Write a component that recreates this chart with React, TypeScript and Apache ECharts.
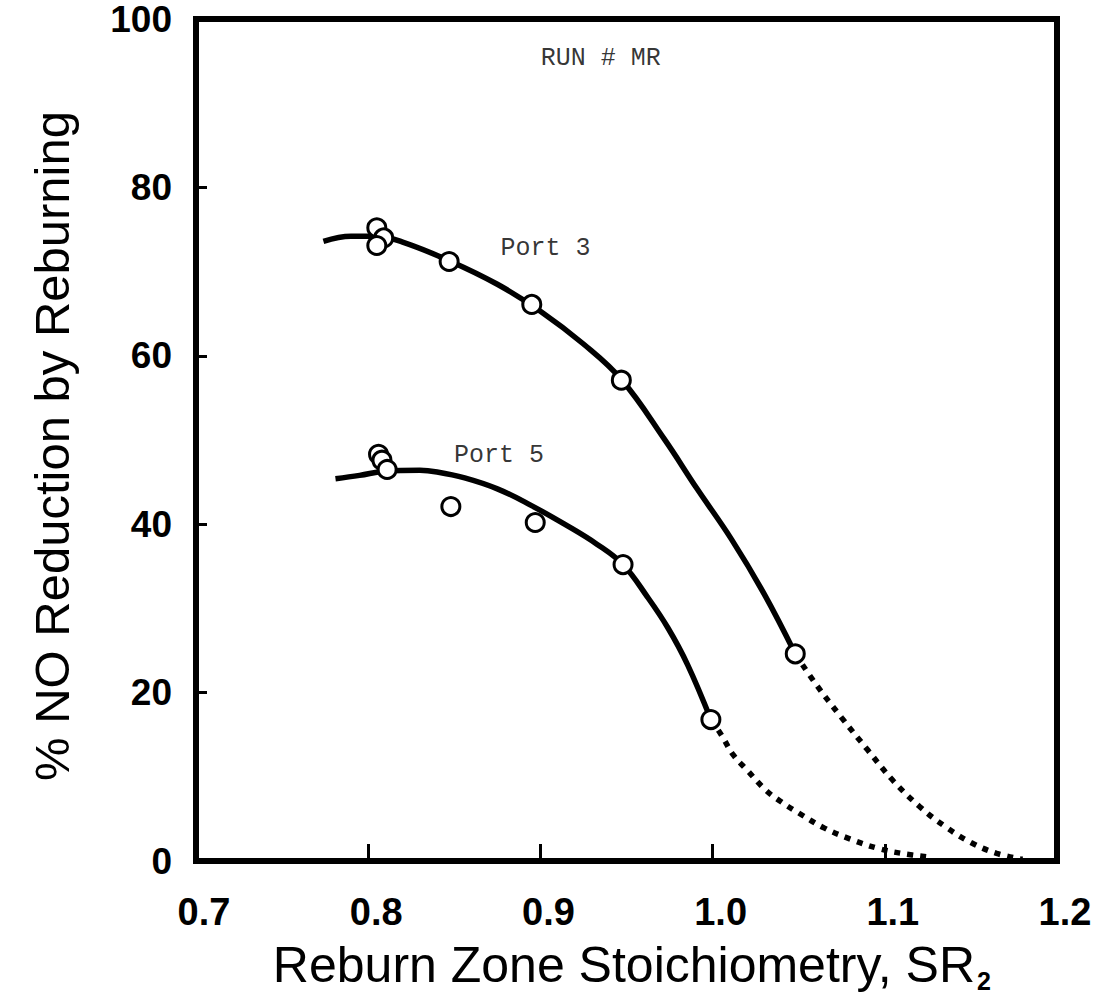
import React, { useEffect, useRef } from 'react';
import * as echarts from 'echarts';

// Measured circles
const port3Points: number[][] = [
  [0.805, 75.2], [0.809, 74.0], [0.805, 73.1], [0.847, 71.2], [0.895, 66.1], [0.947, 57.1], [1.048, 24.6],
];
const port5Points: number[][] = [
  [0.806, 48.3], [0.808, 47.6], [0.811, 46.5], [0.848, 42.1], [0.897, 40.2], [0.948, 35.2], [0.999, 16.8],
];

// Hand-drawn fitted curves (traced)
const port3Solid: number[][] = [
  [0.774, 73.6], [0.79, 74.2], [0.805, 74.2], [0.82, 73.5], [0.847, 71.3], [0.875, 68.5], [0.9, 65.3],
  [0.925, 61.4], [0.947, 57.2], [0.972, 50.1], [0.991, 44.2], [1.011, 38.2], [1.03, 31.7], [1.048, 24.6],
];
const port3Dotted: number[][] = [
  [1.048, 24.6], [1.06, 21.0], [1.075, 17.0], [1.09, 13.2], [1.105, 9.5], [1.12, 6.5], [1.135, 4.1],
  [1.15, 2.2], [1.165, 0.9], [1.18, 0.2],
];
const port5Solid: number[][] = [
  [0.781, 45.4], [0.795, 45.8], [0.81, 46.3], [0.83, 46.4], [0.84, 46.2], [0.856, 45.5], [0.875, 44.2],
  [0.894, 42.3], [0.914, 40.0], [0.933, 37.6], [0.948, 35.2], [0.962, 31.4], [0.974, 27.7], [0.9855, 23.3],
  [0.999, 16.8],
];
const port5Dotted: number[][] = [
  [0.999, 16.8], [1.005, 15.0], [1.012, 12.6], [1.02, 10.8], [1.031, 8.4], [1.04, 7.0], [1.05, 5.7],
  [1.065, 3.9], [1.08, 2.6], [1.096, 1.5], [1.11, 0.9], [1.128, 0.4],
];

const xMin = 0.7, xMax = 1.2, xStep = 0.1;
const yMin = 0, yMax = 100, yStep = 20;

const annotations = [
  { text: 'Port 3', x: 0.903, y: 72.7 },
  { text: 'Port 5', x: 0.876, y: 48.1 },
  { text: 'RUN # MR', x: 0.935, y: 95.3 },
];
const xTitle = 'Reburn Zone Stoichiometry, SR';
const xTitleSub = '2';
const yTitle = '% NO Reduction by Reburning';

const TYPE_FONT = '"Liberation Mono", "DejaVu Sans Mono", monospace';
const SANS = '"Liberation Sans", Arial, sans-serif';

export default function App() {
  const ref = useRef<HTMLDivElement>(null);
  useEffect(() => {
    if (!ref.current) return;
    const chart = echarts.init(ref.current, null, { renderer: 'svg' });
    const lineBase = { type: 'line', smooth: 0.4, showSymbol: false, symbol: 'none', silent: true, z: 2 };
    const scatterBase = {
      type: 'scatter', symbol: 'circle', symbolSize: 18, z: 5,
      itemStyle: { color: '#fff', borderColor: '#000', borderWidth: 3, opacity: 1 },
    };
    const dotted = { color: '#000', width: 5.5, type: [6, 7], cap: 'butt' };
    chart.setOption({
      animation: false,
      backgroundColor: '#fff',
      grid: {
        left: 196, right: 43, top: 19, bottom: 138, show: true,
        borderColor: '#000', borderWidth: 6, backgroundColor: 'transparent',
      },
      xAxis: {
        type: 'value', min: xMin, max: xMax, interval: xStep,
        axisLine: { show: true, lineStyle: { color: '#000', width: 6 } },
        axisTick: { show: true, inside: true, length: 17, lineStyle: { color: '#000', width: 3 } },
        splitLine: { show: false },
        axisLabel: {
          margin: 32, color: '#000', fontFamily: SANS, fontWeight: 'bold', fontSize: 38,
          padding: [0, 0, 0, 16],
          formatter: (v: number) => v.toFixed(1),
        },
      },
      yAxis: {
        type: 'value', min: yMin, max: yMax, interval: yStep,
        axisLine: { show: true, lineStyle: { color: '#000', width: 6 } },
        axisTick: { show: true, inside: true, length: 11, lineStyle: { color: '#000', width: 3 } },
        splitLine: { show: false },
        axisLabel: {
          margin: 24, color: '#000', fontFamily: SANS, fontWeight: 'bold', fontSize: 37,
          padding: [4, 0, 0, 0],
        },
      },
      series: [
        { ...lineBase, name: 'Port 3 fit', data: port3Solid, lineStyle: { color: '#000', width: 5.5 } },
        { ...lineBase, name: 'Port 3 extrap', data: port3Dotted, lineStyle: dotted },
        { ...lineBase, name: 'Port 5 fit', data: port5Solid, lineStyle: { color: '#000', width: 5.5 } },
        { ...lineBase, name: 'Port 5 extrap', data: port5Dotted, lineStyle: dotted },
        { ...scatterBase, name: 'Port 3', data: port3Points },
        { ...scatterBase, name: 'Port 5', data: port5Points },
        {
          type: 'scatter', name: 'labels', symbolSize: 0, silent: true, z: 6,
          data: annotations.map((l) => ({ value: [l.x, l.y], name: l.text })),
          label: {
            show: true, position: 'inside', formatter: (p: any) => p.name,
            color: '#000', fontFamily: TYPE_FONT, fontSize: 25,
          },
        },
      ],
      graphic: [
        {
          type: 'text', x: 975, y: 965, z: 10,
          style: { text: xTitle, fill: '#000', font: `50px ${SANS}`, align: 'right', verticalAlign: 'middle' },
        },
        {
          type: 'text', x: 977, y: 981, z: 10,
          style: { text: xTitleSub, fill: '#000', font: `bold 25px ${SANS}`, align: 'left', verticalAlign: 'middle' },
        },
        {
          type: 'text', x: 52, y: 446, rotation: Math.PI / 2, z: 10,
          style: { text: yTitle, fill: '#000', font: `49px ${SANS}`, align: 'center', verticalAlign: 'middle' },
        },
      ],
    });
    return () => chart.dispose();
  }, []);
  return <div ref={ref} style={{ position: 'absolute', left: 0, top: 0, width: 1100, height: 999 }} />;
}
